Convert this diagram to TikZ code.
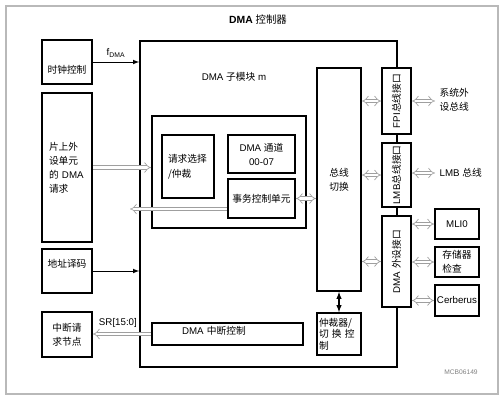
\documentclass[tikz,border=0pt]{standalone}
\usepackage{fontspec}
\setmainfont{Liberation Sans}
\newfontfamily\cjk{Noto Sans CJK SC}
\usepackage{graphicx}
\usetikzlibrary{arrows.meta}
\newcommand{\hanzi}[1]{{\cjk #1}}

\begin{document}
\begin{tikzpicture}[x=0.75pt, y=-0.75pt,
    font=\fontsize{7.3}{10.5}\selectfont,
    box/.style 2 args={draw, line width=1.3pt, fill=white, minimum width=#1*0.75pt,
      minimum height=#2*0.75pt, inner sep=1pt, align=center},
    hollow/.style={draw=gray!75, double=white, double distance=2.2pt, line width=0.5pt},
    sig/.style={-latex, line width=0.6pt}]
    \useasboundingbox (0,0) rectangle (503,400);
    \node[draw=gray!55, line width=0.8pt, minimum width=492*0.75pt, minimum height=388*0.75pt]
    (frame) at (252,200) {};
    \node[font=\fontsize{7.8}{10}\selectfont] (title) at (258,20) {\textbf{DMA} \hanzi{控制器}};

    \node[box={257}{326}, fill=none] (sub) at (268.5,204) {};
    \node (subt) at (234,77) {DMA \hanzi{子模块} m};

    \node[box={50}{44}, text height=18pt, text depth=1.5pt] (clk) at (67,62) {\hanzi{时钟控制}};
    \node[box={50}{149}, align=left, text width=36*0.75pt, inner xsep=7*0.75pt]
    (per) at (67,167.5) {\hanzi{片上外}\\\hanzi{设单元}\\\hanzi{的} DMA\\\hanzi{请求}};
    \node[box={50}{44}, text height=7pt, text depth=13pt] (addr) at (67,271) {\hanzi{地址译码}};
    \node[box={50}{45}] (intn) at (67,334.5) {\hanzi{中断请}\\\hanzi{求节点}};

    \node[box={154}{112}] (core) at (229,172) {};
    \node[box={52}{63}, align=left, text width=40*0.75pt, inner xsep=6*0.75pt,
      font=\fontsize{7.3}{11.2}\selectfont]
    (rsel) at (188,166.5) {\hanzi{请求选择}\\\hanzi{/仲裁}};
    \node[box={67}{38}] (chan) at (261.5,154) {DMA \hanzi{通道}\\00-07};
    \node[box={67}{39}] (trans) at (261.5,198.5) {\hanzi{事务控制单元}};
    \node[box={151}{22}, align=left, text width=91*0.75pt, inner xsep=30*0.75pt,
      text height=7pt, text depth=7pt] (intc) at (227.5,334) {DMA \hanzi{中断控制}};

    \node[box={44}{223}] (bus) at (339,179.5) {\hanzi{总线}\\\hanzi{切换}};
    \node[box={44}{42}, align=left, text width=40*0.75pt, inner xsep=2*0.75pt,
      font=\fontsize{7.3}{8.6}\selectfont]
    (arb) at (339,334) {\hanzi{仲裁器/}\\\hanzi{切\ 换\ 控}\\\hanzi{制}};

    \node[box={29}{66}] (fpi) at (396.5,101) {\rotatebox{90}{FPI\hanzi{总线接口}}};
    \node[box={29}{64}] (lmb) at (396.5,175) {\rotatebox{90}{LMB\hanzi{总线接口}}};
    \node[box={29}{91}] (dmap) at (396.5,261.5) {\rotatebox{90}{DMA \hanzi{外设接口}}};

    \node[box={44}{30}] (mli) at (457,224) {MLI0};
    \node[box={44}{30}, align=left] (stor) at (457,262) {\hanzi{存储器}\\\hanzi{检查}};
    \node[box={44}{31}] (cerb) at (457,300.5) {Cerberus};

    \node[anchor=west, align=left] (sysb) at (435,100) {\hanzi{系统外}\\\hanzi{设总线}};
    \node[anchor=west] (lmbb) at (435,173) {LMB \hanzi{总线}};
    \node[font=\fontsize{5}{6}\selectfont, text=gray] (code) at (461,372) {MCB06149};

    \draw[sig] (clk.east) -- node[above] {f\textsubscript{DMA}} (clk.east -| sub.west);
    \draw[sig] (addr.east) -- (addr.east -| sub.west);
    \draw[latex-latex, line width=0.8pt] (bus.south) -- (arb.north);

    \coordinate (tout) at (130,209);
    \draw[hollow, -{Implies}] (per.east) -- (per.east -| core.west);
    \draw[hollow, -{Implies}] (trans.west |- tout) -- (tout);
    \draw[hollow, {Implies}-{Implies}] (trans.east) -- (trans.east -| bus.west);
    \draw[hollow, {Implies}-{Implies}] (fpi.west -| bus.east) -- (fpi.west);
    \draw[hollow, {Implies}-{Implies}] (lmb.west -| bus.east) -- (lmb.west);
    \draw[hollow, {Implies}-{Implies}] (dmap.west -| bus.east) -- (dmap.west);
    \draw[hollow, {Implies}-{Implies}] (fpi.east) -- (sysb.west |- fpi.east);
    \draw[hollow, {Implies}-{Implies}] (lmbb.west -| lmb.east) -- (lmbb.west);
    \draw[hollow, {Implies}-{Implies}] (mli.west -| dmap.east) -- (mli.west);
    \draw[hollow, {Implies}-{Implies}] (stor.west -| dmap.east) -- (stor.west);
    \draw[hollow, {Implies}-{Implies}] (cerb.west -| dmap.east) -- (cerb.west);
    \draw[hollow, -{Implies}] (intc.west) -- node[pos=0.57, above=1pt] {SR[15:0]} (intc.west -| intn.east);
  \end{tikzpicture}
\end{document}
